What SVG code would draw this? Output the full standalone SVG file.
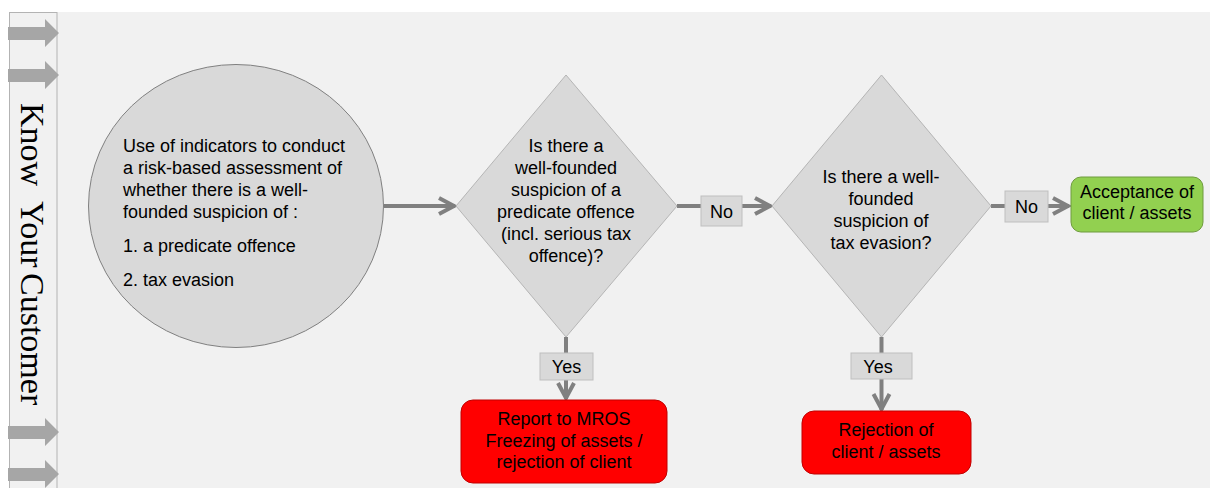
<svg xmlns="http://www.w3.org/2000/svg" width="1210" height="488" viewBox="0 0 1210 488">
  <defs>
    <style>
      .t { font-family: "Liberation Sans", Arial, sans-serif; font-size: 18px; fill: #000; }
      .c { text-anchor: middle; }
      .lbl { fill: #d9d9d9; stroke: #bfbfbf; stroke-width: 1; }
      .dia { fill: #d9d9d9; stroke: #b5b5b5; stroke-width: 1; }
      .con { stroke: #808080; stroke-width: 4; fill: none; }
      .blk { fill: #a6a6a6; }
    </style>
    <marker id="ah" markerUnits="userSpaceOnUse" markerWidth="24" markerHeight="24" viewBox="-20 -12 24 24" refX="0" refY="0" orient="auto">
      <path d="M-16,-8 L-1,0 L-16,8" fill="none" stroke="#808080" stroke-width="4"/>
    </marker>
  </defs>

  <rect x="0" y="0" width="1210" height="488" fill="#ffffff"/>
  <rect x="57" y="12" width="1153" height="476" fill="#f1f1f1"/>

  <g id="kyc-strip">
    <rect x="9.5" y="12.5" width="47.5" height="480" fill="#f1f1f1" stroke="#b3b3b3" stroke-width="1"/>
    <polygon class="blk" points="8,27 45,27 45,19 59,33 45,47 45,40 8,40"/>
    <polygon class="blk" points="8,69 45,69 45,61 59,75 45,89 45,82 8,82"/>
    <polygon class="blk" points="8,426 45,426 45,418 59,432 45,446 45,439 8,439"/>
    <polygon class="blk" points="8,468 45,468 45,460 59,474 45,488 45,481 8,481"/>
    <text transform="translate(21,0) rotate(90)" font-family="'Liberation Serif', 'Times New Roman', serif" font-size="34" fill="#000"><tspan x="103" y="0">Know</tspan><tspan x="201" y="0">Your</tspan><tspan x="273" y="0">Customer</tspan></text>
  </g>

  <g id="connectors">
    <line class="con" x1="384" y1="206" x2="455" y2="206" marker-end="url(#ah)"/>
    <line class="con" x1="677" y1="206" x2="701" y2="206"/>
    <line class="con" x1="742" y1="206" x2="771" y2="206" marker-end="url(#ah)"/>
    <line class="con" x1="991" y1="206" x2="1005" y2="206"/>
    <line class="con" x1="1048" y1="206" x2="1069" y2="206" marker-end="url(#ah)"/>
    <line class="con" x1="566" y1="337" x2="566" y2="353"/>
    <line class="con" x1="566" y1="380" x2="566" y2="399" marker-end="url(#ah)"/>
    <line class="con" x1="881.5" y1="337" x2="881.5" y2="353"/>
    <line class="con" x1="881.5" y1="379" x2="881.5" y2="410" marker-end="url(#ah)"/>
  </g>

  <g id="assessment">
    <ellipse cx="236" cy="206" rx="147.5" ry="141.5" fill="#d9d9d9" stroke="#808080" stroke-width="1"/>
    <text class="t" x="123" y="152">Use of indicators to conduct</text>
    <text class="t" x="123" y="174">a risk-based assessment of</text>
    <text class="t" x="123" y="196">whether there is a well-</text>
    <text class="t" x="123" y="218">founded suspicion of :</text>
    <text class="t" x="123" y="252">1. a predicate offence</text>
    <text class="t" x="123" y="286">2. tax evasion</text>
  </g>

  <g id="decision-predicate">
    <polygon class="dia" points="566,75 677,206 566,337 456,206"/>
    <text class="t c" x="566" y="152">Is there a</text>
    <text class="t c" x="566" y="174">well-founded</text>
    <text class="t c" x="566" y="196">suspicion of a</text>
    <text class="t c" x="566" y="218">predicate offence</text>
    <text class="t c" x="566" y="240">(incl. serious tax</text>
    <text class="t c" x="566" y="262">offence)?</text>
  </g>

  <g id="decision-tax">
    <polygon class="dia" points="881.5,75 991,206 881.5,337 772,206"/>
    <text class="t c" x="881" y="183">Is there a well-</text>
    <text class="t c" x="881" y="205">founded</text>
    <text class="t c" x="881" y="227">suspicion of</text>
    <text class="t c" x="881" y="249">tax evasion?</text>
  </g>

  <g id="label-no-1">
    <rect class="lbl" x="701" y="196" width="41" height="30"/>
    <text class="t c" x="721.5" y="217.5">No</text>
  </g>
  <g id="label-no-2">
    <rect class="lbl" x="1005" y="191" width="43" height="31"/>
    <text class="t c" x="1026.5" y="213">No</text>
  </g>
  <g id="label-yes-1">
    <rect class="lbl" x="540" y="353" width="53" height="27"/>
    <text class="t c" x="566.5" y="373">Yes</text>
  </g>
  <g id="label-yes-2">
    <rect class="lbl" x="851" y="353" width="61" height="26"/>
    <text class="t c" x="878" y="372.5">Yes</text>
  </g>

  <g id="acceptance">
    <rect x="1071" y="177" width="132" height="55" rx="10" fill="#92d050" stroke="#6f9b3e" stroke-width="1"/>
    <text class="t c" x="1137" y="198">Acceptance of</text>
    <text class="t c" x="1137" y="219">client / assets</text>
  </g>

  <g id="report-mros">
    <rect x="461" y="400" width="206" height="83" rx="12" fill="#ff0000" stroke="#c00000" stroke-width="1"/>
    <text class="t c" x="564" y="425">Report to MROS</text>
    <text class="t c" x="564" y="447">Freezing of assets /</text>
    <text class="t c" x="564" y="468">rejection of client</text>
  </g>

  <g id="rejection">
    <rect x="802" y="411" width="169" height="63" rx="12" fill="#ff0000" stroke="#c00000" stroke-width="1"/>
    <text class="t c" x="886" y="436">Rejection of</text>
    <text class="t c" x="886" y="458">client / assets</text>
  </g>
</svg>
